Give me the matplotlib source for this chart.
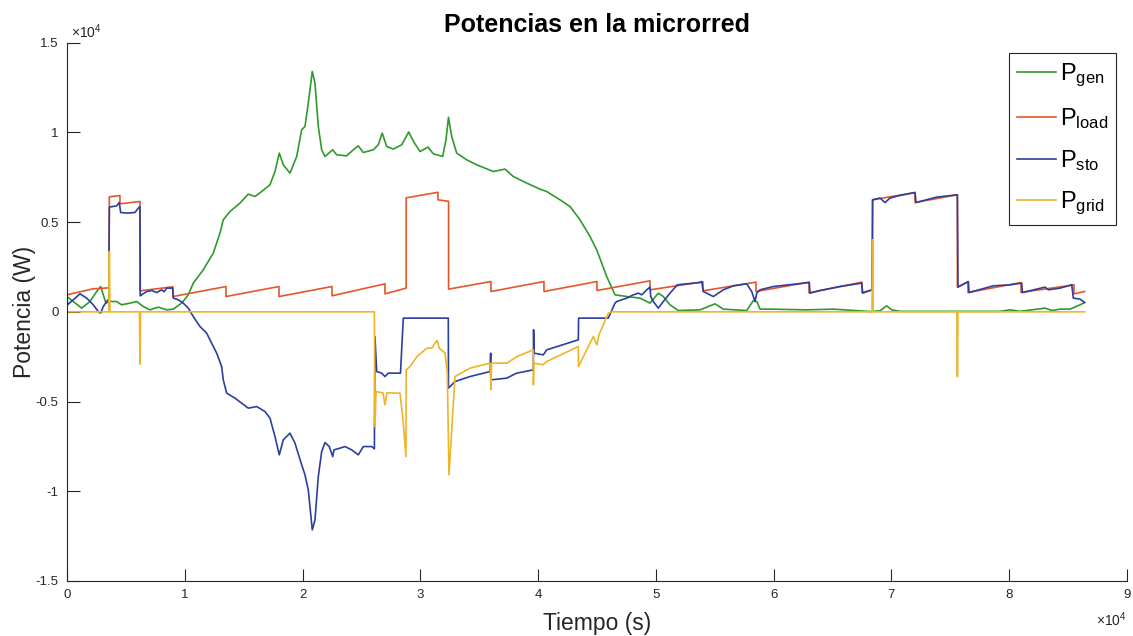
import matplotlib
matplotlib.use("Agg")
import matplotlib.pyplot as plt

plt.rcParams['font.family'] = ['Liberation Sans', 'DejaVu Sans']
plt.rcParams['mathtext.fontset'] = 'custom'
plt.rcParams['mathtext.rm'] = 'Liberation Sans'

# Generación (W) vs tiempo (s)
t_gen = [0, 535, 1248, 1953, 2522, 2861, 3082, 3311, 3592, 4220, 4645, 5349, 5918, 6479, 7048, 7752,
         8465, 9026, 9739, 10300, 10724, 11573, 12422, 12991, 13271, 13840, 14689, 15394, 15963, 16532,
         17237, 17661, 18027, 18366, 18935, 19504, 19929, 20209, 20489, 20829, 21058, 21339, 21627, 21907,
         22561, 22900, 23749, 24310, 24734, 25159, 26008, 26432, 26764, 27146, 27706, 28419, 29014, 29464,
         29973, 30652, 31102, 31900, 32181, 32393, 32665, 33089, 33939, 34788, 36197, 37191, 37896, 39033,
         40162, 40731, 41861, 42710, 43559, 44408, 44977, 45826, 46531, 47525, 48654, 49503, 50208, 50632,
         51201, 51906, 53748, 55022, 55727, 57714, 58275, 58589, 58843, 59692, 62808, 65067, 68181, 69030,
         69599, 70023, 70730, 79221, 80070, 80919, 83042, 83637, 84316, 85165, 86014, 86400]
p_gen = [853, 574, 206, 574, 1132, 1410, 948, 485, 574, 574, 390, 485, 574, 295, 111, 262,
         111, 150, 485, 948, 1600, 2341, 3272, 4387, 5128, 5591, 6059, 6561, 6427, 6705,
         7079, 7820, 8846, 8194, 7731, 8657, 10145, 10329, 11633, 13394, 12748, 10329, 9030, 8657,
         9030, 8751, 8695, 9030, 9253, 8879, 9030, 9309, 9961, 9214, 9069, 9309, 10022, 9448,
         8935, 9181, 8807, 8657, 9587, 10842, 9771, 8846, 8472, 8194, 7820, 7954, 7542, 7174,
         6839, 6705, 6243, 5869, 5128, 4197, 3456, 1968, 948, 853, 764, 485, 1042, 853,
         390, 72, 111, 446, 150, 72, 630, 557, 150, 150, 111, 150, 17, 56,
         334, 111, 28, 28, 111, 28, 206, 72, 150, 150, 390, 518]

# Carga
t_load = [0, 2208, 3550, 3600, 4500, 4500, 6200, 6200, 9000, 9000, 13500, 13500, 18000, 18000,
          22500, 22500, 27000, 27000, 28800, 28800, 31500, 31500, 32400, 32400, 36000, 36000,
          40500, 40500, 45000, 45000, 49500, 49500, 54000, 54000, 58500, 58500, 63000, 63000,
          67500, 67500, 68400, 68400, 72000, 72000, 75600, 75600, 76500, 76500, 81000, 81000,
          85500, 85500, 86400]
p_load = [948, 1282, 1338, 6410, 6483, 6020, 6148, 1171, 1394, 853, 1410, 853, 1410, 853,
          1410, 892, 1561, 1003, 1321, 6354, 6661, 6243, 6159, 1265, 1689, 1132,
          1689, 1132, 1689, 1187, 1728, 1226, 1672, 1171, 1655, 1132, 1655, 1059,
          1655, 1076, 1226, 6243, 6650, 6092, 6522, 1377, 1672, 1076, 1633, 1076,
          1505, 1003, 1132]

# Almacenamiento
t_sto = [0, 42, 535, 1104, 1673, 2233, 2658, 2861, 3082, 3371, 3550, 3600, 4220, 4441, 4560, 5069,
         5774, 6054, 6198, 6225, 6343, 6767, 7192, 7616, 8041, 8236, 8465, 8975, 9026, 9451, 9875,
         10300, 10724, 11293, 11862, 12142, 12711, 13136, 13271, 13560, 14265, 14834, 15394, 16107,
         16812, 17237, 17661, 18027, 18366, 18935, 19360, 19929, 20209, 20489, 20829, 21058, 21339,
         21627, 21907, 22272, 22561, 22671, 23181, 23605, 24174, 24734, 25159, 25872, 26100, 26150,
         26296, 26721, 27001, 27282, 28318, 28555, 32376, 32393, 32945, 34219, 35917, 35975, 36000,
         37336, 38185, 39594, 39620, 39650, 40443, 40731, 43415, 43440, 45962, 46531, 46676, 47525,
         48085, 48510, 48799, 49223, 49503, 49562, 49783, 50208, 50632, 51201, 51821, 52619, 53748,
         53892, 54028, 54877, 55727, 56576, 57714, 58138, 58418, 58563, 58843, 59972, 63028, 63088,
         63937, 65636, 67478, 67563, 68350, 68400, 69030, 69455, 69880, 70585, 72004, 72089, 73847,
         75600, 75650, 76530, 76589, 78652, 80070, 81064, 81115, 82338, 83042, 83322, 84316, 85309,
         85445, 86014, 86400]
p_sto = [948, 390, 669, 1003, 764, 390, 17, -72, 295, 574, 708, 5836, 5909, 6092, 5535, 5502,
         5535, 5780, 5869, 892, 948, 1132, 1187, 1076, 1226, 1115, 1321, 1321, 764, 669, 485,
         206, -262, -819, -1187, -1561, -2302, -3049, -3790, -4532, -4810, -5089, -5368, -5279,
         -5557, -5925, -6951, -7971, -7135, -6761, -7319, -8528, -9086, -9922, -12151, -11594, -9180,
         -7787, -7285, -7508, -8066, -7692, -7597, -7508, -7692, -7971, -7508, -7508, -7636, -1377,
         -3328, -3417, -3606, -3417, -3417, -351, -351, -4253, -3885, -3606, -3328, -2302, -3790,
         -3696, -3417, -3233, -1003, -2302, -2397, -2118, -1561, -351, -351, 485, 574, 764,
         948, 1042, 948, 1226, 1377, 853, 574, 206, 574, 1042, 1505, 1561, 1633,
         1689, 1132, 853, 1226, 1449, 1561, 1132, 574, 1042, 1226, 1410, 1633, 1042,
         1187, 1410, 1600, 1042, 1226, 6243, 6338, 6092, 6338, 6466, 6650, 6092, 6394,
         6522, 1377, 1689, 1076, 1449, 1505, 1600, 1076, 1265, 1377, 1226, 1321, 1505,
         764, 708, 518]

# Red
t_grid = [0, 3550, 3600, 3650, 6150, 6200, 6250, 26100, 26150, 26240, 26830, 27000, 27170,
          28275, 28530, 28784, 28800, 29125, 29720, 30570, 30990, 31250, 31440, 31610,
          32100, 32290, 32435, 32945, 34220, 35917, 36000, 36050, 37360, 38210, 39590, 39600,
          39650, 40417, 40730, 43415, 43430, 44690, 45000, 45170, 45960, 46276,
          68350, 68400, 68450, 75550, 75600, 75650, 86400]
p_grid = [0, 0, 3361, 0, 0, -2915, 0, 0, -6392, -4442, -4515, -5184, -4515,
          -4532, -6020, -8066, -3233, -3049, -2492, -2023, -2023, -1745, -1600, -2023,
          -2302, -3400, -9086, -3606, -3138, -2859, -4348, -2859, -2859, -2492, -2118, -4069,
          -2859, -2954, -2770, -1934, -3049, -1377, -1839, -1282, -72, 0,
          0, 4013, 0, 0, -3606, 0, 0]

c_gen = '#2f9a2c'
c_load = '#e4572a'
c_sto = '#2b3f9e'
c_grid = '#f0b429'
ink = '#262626'

fig = plt.figure(figsize=(11.33, 6.36), dpi=100)
ax = fig.add_axes([0.0591, 0.0865, 0.9356, 0.8464])

ax.plot(t_gen, p_gen, color=c_gen, lw=1.2, label=r'$\mathregular{P_{gen}}$')
ax.plot(t_load, p_load, color=c_load, lw=1.2, label=r'$\mathregular{P_{load}}$')
ax.plot(t_sto, p_sto, color=c_sto, lw=1.2, label=r'$\mathregular{P_{sto}}$')
ax.plot(t_grid, p_grid, color=c_grid, lw=1.2, label=r'$\mathregular{P_{grid}}$')

ax.set_xlim(0, 90000)
ax.set_ylim(-15000, 15000)
ax.set_xticks([i * 10000 for i in range(10)])
ax.set_xticklabels([str(i) for i in range(10)])
yt = [-1.5, -1, -0.5, 0, 0.5, 1, 1.5]
ax.set_yticks([v * 10000 for v in yt])
ax.set_yticklabels(['%g' % v for v in yt])

for s in ['top', 'right']:
    ax.spines[s].set_visible(False)
for s in ['left', 'bottom']:
    ax.spines[s].set_color(ink)
    ax.spines[s].set_linewidth(0.8)
ax.tick_params(direction='in', length=9, width=0.8, colors=ink, labelsize=9.5, pad=6)

ax.text(0.004, 1.004, r'$\mathregular{\times10^{4}}$', transform=ax.transAxes,
        ha='left', va='bottom', fontsize=10, color=ink)
ax.text(1.0, -0.072, r'$\mathregular{\times10^{4}}$', transform=ax.transAxes,
        ha='right', va='center', fontsize=10, color=ink)

ax.set_title('Potencias en la microrred', fontsize=18, fontweight='bold', pad=8)
ax.set_xlabel('Tiempo (s)', fontsize=16.5, color=ink, labelpad=8)
ax.set_ylabel('Potencia (W)', fontsize=16.5, color=ink, labelpad=0)

leg = ax.legend(loc='upper right', fontsize=17, handlelength=1.65, handletextpad=0.15,
                labelspacing=0.72, borderpad=0.35, borderaxespad=0.45, fancybox=False,
                framealpha=1, edgecolor=ink)
leg.get_frame().set_linewidth(0.8)

fig.savefig('out.png', dpi=100)
